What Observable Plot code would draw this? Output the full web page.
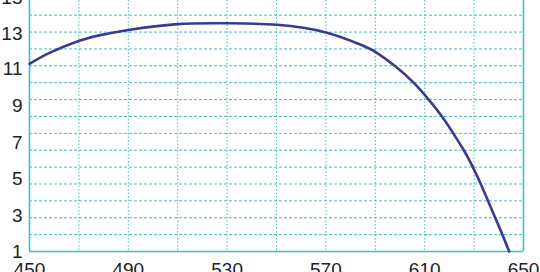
<!DOCTYPE html>
<html>
<head>
<meta charset="utf-8">
<script src="https://cdn.jsdelivr.net/npm/d3@7"></script>
<script src="https://cdn.jsdelivr.net/npm/@observablehq/plot@0.6"></script>
<style>
  html, body { margin: 0; padding: 0; background: #fff; }
  #chart svg { display: block; }
</style>
</head>
<body>
<div id="chart"></div>
<script>
// Curve data
const xs = [450, 458.5, 470.2, 478.7, 490.1, 509.9, 530.4, 550.2, 570.0, 583.9, 590.0, 598.1, 605.5, 611.6, 617.0, 621.55, 625.85, 629.5, 632.7, 635.65, 638.55, 641.45, 644.2];
const ys = [12.12, 12.8, 13.49, 13.82, 14.12, 14.47, 14.52, 14.43, 13.98, 13.26, 12.83, 11.97, 11.0, 10.0, 9.0, 8.0, 7.0, 6.0, 5.0, 4.0, 3.0, 2.0, 1.0];

// Axis tick labels
const xTickLabels = [450, 490, 530, 570, 610, 650];
const xGridTicks = [470, 490, 510, 530, 550, 570, 590, 610, 630];
const yGridTicks = [1, 2, 3, 4, 5, 6, 7, 8, 9, 10, 11, 12, 13, 14, 15];
const yTickLabels = ["1", "3", "5", "7", "9", "11", "13", "15"];
// where the (slightly misregistered) y labels sit against the grid in the reference
const yTickLabelPos = [1, 3.13, 5.3, 7.45, 9.6, 11.8, 13.9, 16.0];

const data = xs.map((x, i) => ({x, y: ys[i]}));
const labelAt = new Map(yTickLabelPos.map((p, i) => [p, yTickLabels[i]]));

const teal = "#3fbcc4";
const font = "'Liberation Sans', Arial, Helvetica, sans-serif";

const chart = Plot.plot({
  width: 540,
  height: 272,
  marginLeft: 29,
  marginRight: 17,
  marginTop: 0,
  marginBottom: 21,
  style: {fontFamily: font, background: "#fff", overflow: "visible"},
  x: {domain: [450, 650], axis: null},
  y: {domain: [1, 15.87], axis: null},
  marks: [
    Plot.gridY(yGridTicks, {stroke: teal, strokeOpacity: 1, strokeWidth: 1, strokeDasharray: "3,2"}),
    Plot.gridX(xGridTicks, {stroke: teal, strokeOpacity: 1, strokeWidth: 1, strokeDasharray: "1.5,2"}),
    Plot.ruleX([450, 650], {stroke: teal, strokeWidth: 1.6}),
    Plot.ruleY([1], {stroke: teal, strokeWidth: 1.6}),
    Plot.line(data, {x: "x", y: "y", curve: "natural", stroke: "#3a3a92", strokeWidth: 2.6}),
    Plot.axisY(yTickLabelPos, {label: null, tickSize: 0, tickPadding: 7, fontSize: 19, fill: "#222", tickFormat: d => labelAt.get(d)}),
    Plot.axisX(xTickLabels, {label: null, tickSize: 0, tickPadding: 11, fontSize: 19, fill: "#222", tickFormat: d => String(d)})
  ]
});

document.getElementById("chart").appendChild(chart);
</script>
</body>
</html>
